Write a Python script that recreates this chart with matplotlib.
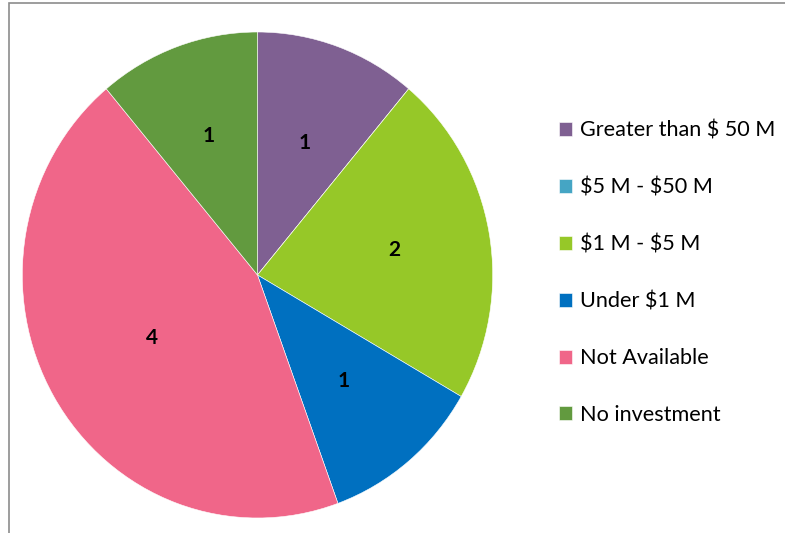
import numpy as np
import matplotlib.pyplot as plt
from matplotlib.patches import Rectangle

# --- Data ---
categories = ["Greater than \\$ 50 M", "\\$5 M - \\$50 M", "\\$1 M - \\$5 M",
              "Under \\$1 M", "Not Available", "No investment"]
counts = [1, 0, 2, 1, 4, 1]
colors = ["#7F6092", "#45A5C4", "#96C828", "#0070C0", "#F06689", "#629A3F"]
# radial position of the count labels (fraction of radius), per slice
label_dist = [0.58, 0.58, 0.59, 0.57, 0.52, 0.61]

plt.rcParams['font.family'] = ['Lato', 'DejaVu Sans']


def label_count(pct):
    n = round(pct * sum(counts) / 100.0)
    return f"{n}" if n > 0 else ""


fig = plt.figure(figsize=(7.85, 5.33), dpi=100)
ax = fig.add_axes([22.3 / 785, 15 / 533, 470.4 / 785, 486 / 533])

wedges, texts, autotexts = ax.pie(
    counts, colors=colors, startangle=90, counterclock=False,
    autopct=label_count, pctdistance=0.58,
    wedgeprops=dict(edgecolor="white", linewidth=0.4),
)
for w, t, d in zip(wedges, autotexts, label_dist):
    mid = np.deg2rad((w.theta1 + w.theta2) / 2)
    t.set_position((d * np.cos(mid), d * np.sin(mid)))
    t.set_fontsize(15)
    t.set_fontweight("bold")
    t.set_color("black")

ax.set_aspect("auto")
ax.set_xlim(-1, 1)
ax.set_ylim(-1, 1)

# chart frame (only top and left edges are visible in the crop)
fig.patches.append(Rectangle((9.3 / 785, -0.1), 1.2, (533 - 2.8) / 533 + 0.1,
                             transform=fig.transFigure, fill=False,
                             edgecolor="#8C8C8C", linewidth=1.2))

fig.legend(wedges, categories, loc="upper left",
           bbox_to_anchor=(548 / 785, 1 - 110 / 533), frameon=False,
           fontsize=15.6, handlelength=0.62, handleheight=0.62,
           handletextpad=0.38, labelspacing=1.7, borderpad=0)

fig.savefig("out.png", dpi=100)
